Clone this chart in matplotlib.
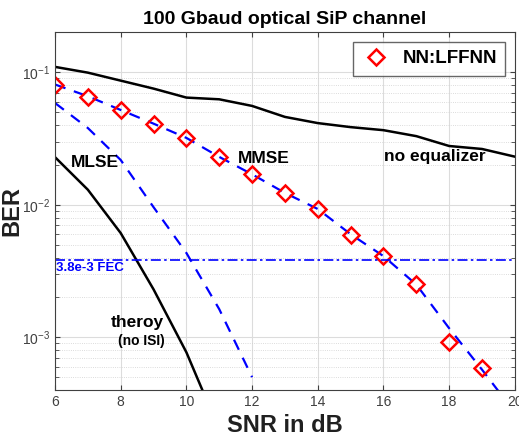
import matplotlib.pyplot as plt
import numpy as np

plt.rcParams['font.family'] = ['Liberation Sans', 'DejaVu Sans']

# 数据
snr = [6, 7, 8, 9, 10, 11, 12, 13, 14, 15, 16, 17, 18, 19, 20]
ber_no_eq = [0.110, 0.0995, 0.0866, 0.0754, 0.0645, 0.0626, 0.0558, 0.0461,
             0.0414, 0.0386, 0.0366, 0.0330, 0.0278, 0.0264, 0.0231]
ber_mmse = [0.081, 0.066, 0.052, 0.041, 0.032, 0.023, 0.017, 0.0123,
            0.0093, 0.0060, 0.0041, 0.0025, 0.00117, 0.00057, 0.00027]
snr_mlse = [6, 7, 8, 9, 10, 11, 12]
ber_mlse = [0.0587, 0.038, 0.0218, 0.0096, 0.00433, 0.00163, 0.0005]
snr_theory = [6, 7, 8, 9, 10, 11]
ber_theory = [0.0229, 0.0130, 0.00612, 0.0023, 0.00077, 0.0002]
snr_nn = [6, 7, 8, 9, 10, 11, 12, 13, 14, 15, 16, 17, 18, 19]
ber_nn = [0.0799, 0.0652, 0.0518, 0.0406, 0.0318, 0.0229, 0.0170, 0.01226,
          0.00929, 0.00595, 0.00414, 0.00253, 0.000929, 0.000585]
fec_limit = 3.8e-3

fig = plt.figure(figsize=(5.19, 4.45), dpi=100)
ax = fig.add_axes([0.106, 0.1236, 0.886, 0.8034])

ax.semilogy(snr, ber_no_eq, color='black', lw=1.8)
ax.semilogy(snr, ber_mmse, color='blue', lw=1.6, ls=(0, (5, 4)))
ax.semilogy(snr_mlse, ber_mlse, color='blue', lw=1.6, ls=(0, (5, 4)))
ax.semilogy(snr_theory, ber_theory, color='black', lw=1.8)
ax.semilogy(snr_nn, ber_nn, ls='none', marker='D', ms=8.5, mfc='none',
            mec='red', mew=1.8, label='NN:LFFNN')
ax.axhline(fec_limit, color='blue', lw=1.2, ls=(0, (6, 2, 1.5, 2)))

ax.set_xlim(6, 20)
ax.set_ylim(4e-4, 0.2)
ax.set_xticks(np.arange(6, 21, 2))

# 网格
ax.grid(True, which='major', color='#dcdcdc', lw=0.8)
ax.grid(True, which='minor', axis='y', color='#d0d0d0', lw=0.6, ls=':')
ax.tick_params(which='both', direction='in', top=True, right=True,
               colors='#404040', labelsize=10)
ax.tick_params(which='minor', length=3)
for s in ax.spines.values():
    s.set_color('#404040')

# 文字标注
bold = dict(fontweight='bold', color='black', ha='center', va='center')
ax.text(7.22, 0.0207, 'MLSE', fontsize=12.5, **bold)
ax.text(12.35, 0.0225, 'MMSE', fontsize=12.5, **bold)
ax.text(17.55, 0.0230, 'no equalizer', fontsize=12.5, **bold)
ax.text(8.50, 1.3e-3, 'theroy', fontsize=12.5, **bold)
ax.text(8.63, 0.93e-3, '(no ISI)', fontsize=10, **bold)
ax.text(6.02, 3.34e-3, '3.8e-3 FEC', fontsize=9.5, color='blue',
        fontweight='bold', va='center')

ax.set_title('100 Gbaud optical SiP channel', fontsize=14, fontweight='bold')
ax.set_xlabel('SNR in dB', fontsize=17, fontweight='bold', color='#202020')
ax.set_ylabel('BER', fontsize=17, fontweight='bold', color='#202020')
ax.yaxis.set_label_coords(-0.068, 0.5)

leg = ax.legend(loc='upper right', prop={'weight': 'bold', 'size': 13.5},
                fancybox=False, edgecolor='#404040', handletextpad=0.6,
                borderpad=0.45, handlelength=1.6)
leg.get_frame().set_linewidth(1.0)

fig.savefig('out.png', dpi=100)
